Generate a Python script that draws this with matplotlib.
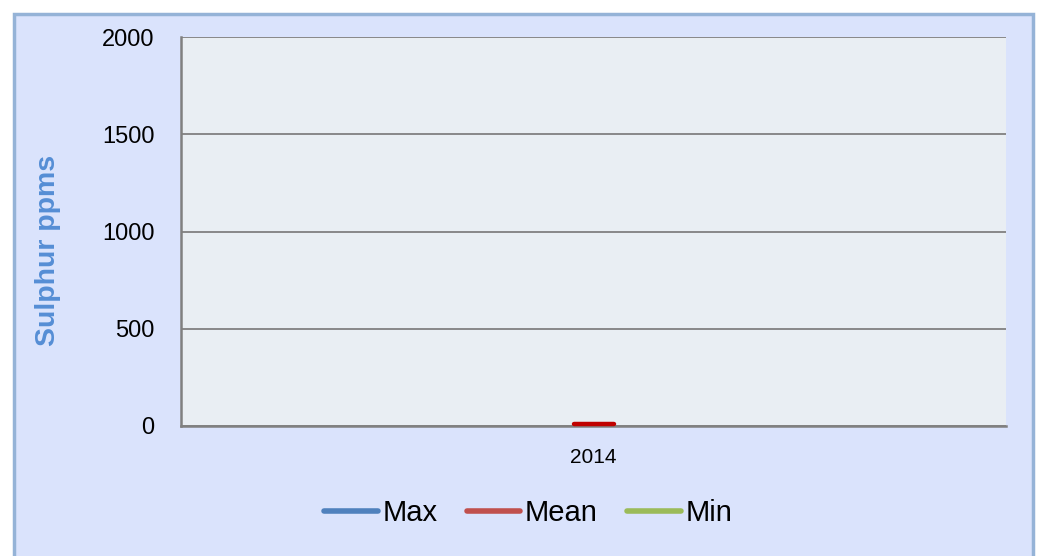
import matplotlib
matplotlib.use("Agg")
import matplotlib.pyplot as plt
from matplotlib.patches import Rectangle
from matplotlib.lines import Line2D
from matplotlib.markers import MarkerStyle

categories = ["2014"]
max_vals = [10]
mean_vals = [10]
min_vals = [10]
yticks = [0, 500, 1000, 1500, 2000]

plt.rcParams['font.family'] = ['Liberation Sans', 'DejaVu Sans']

W, H = 1044, 556
fig = plt.figure(figsize=(W / 100, H / 100), dpi=100)
fig.patch.set_facecolor("white")

# outer chart area with border
fig.patches.append(Rectangle((14 / W, -0.05), (1033 - 14) / W, 1 - 14 / H + 0.05,
                             transform=fig.transFigure, facecolor="#DAE3FC",
                             edgecolor="#95B3D7", linewidth=2.5, zorder=-10))

ax = fig.add_axes([181 / W, 1 - 426 / H, (1006 - 181) / W, (426 - 37) / H])
ax.set_zorder(2)
ax.set_facecolor("#E9EEF3")
x = list(range(len(categories)))

ax.plot(x, max_vals, color="#4F81BD", lw=4, solid_capstyle="round", label="Max")
ax.plot(x, min_vals, color="#9BBB59", lw=4, solid_capstyle="round", label="Min")
ax.plot(x, mean_vals, color="#C0504D", lw=4, label="Mean",
        marker=MarkerStyle("_", capstyle="round"), markersize=29,
        markeredgewidth=3.2, markeredgecolor="#C00000",
        zorder=5, clip_on=False)

ax.set_xlim(-0.5, len(categories) - 0.5)
ax.set_ylim(0, 2000)
ax.set_yticks(yticks)
ax.set_yticklabels([str(v) for v in yticks], fontsize=17)
ax.set_xticks(x)
ax.set_xticklabels(categories, fontsize=15)
ax.tick_params(axis="y", length=0, pad=19)
ax.tick_params(axis="x", length=0, pad=16)
ax.grid(axis="y", color="#808080", linewidth=1.3)
ax.set_axisbelow(True)
for s in ["top", "right"]:
    ax.spines[s].set_visible(False)
for s in ["left", "bottom"]:
    ax.spines[s].set_color("#808080")
    ax.spines[s].set_linewidth(1.8)

fig.text(48 / W, 1 - 250 / H, "Sulphur ppms", rotation=90, ha="center", va="center",
         fontsize=20.5, fontweight="bold", color="#558ED5", zorder=3)

handles = [Line2D([], [], color="#4F81BD", lw=4, solid_capstyle="round"),
           Line2D([], [], color="#C0504D", lw=4, solid_capstyle="round"),
           Line2D([], [], color="#9BBB59", lw=4, solid_capstyle="round")]
leg = fig.legend(handles, ["Max", "Mean", "Min"], loc="center", ncol=3,
                 bbox_to_anchor=(528 / W, 1 - 513 / H), frameon=False, fontsize=21,
                 handlelength=1.85, handletextpad=0.15, columnspacing=1.0)
leg.set_zorder(3)

fig.savefig("out.png", dpi=100, facecolor=fig.get_facecolor())
